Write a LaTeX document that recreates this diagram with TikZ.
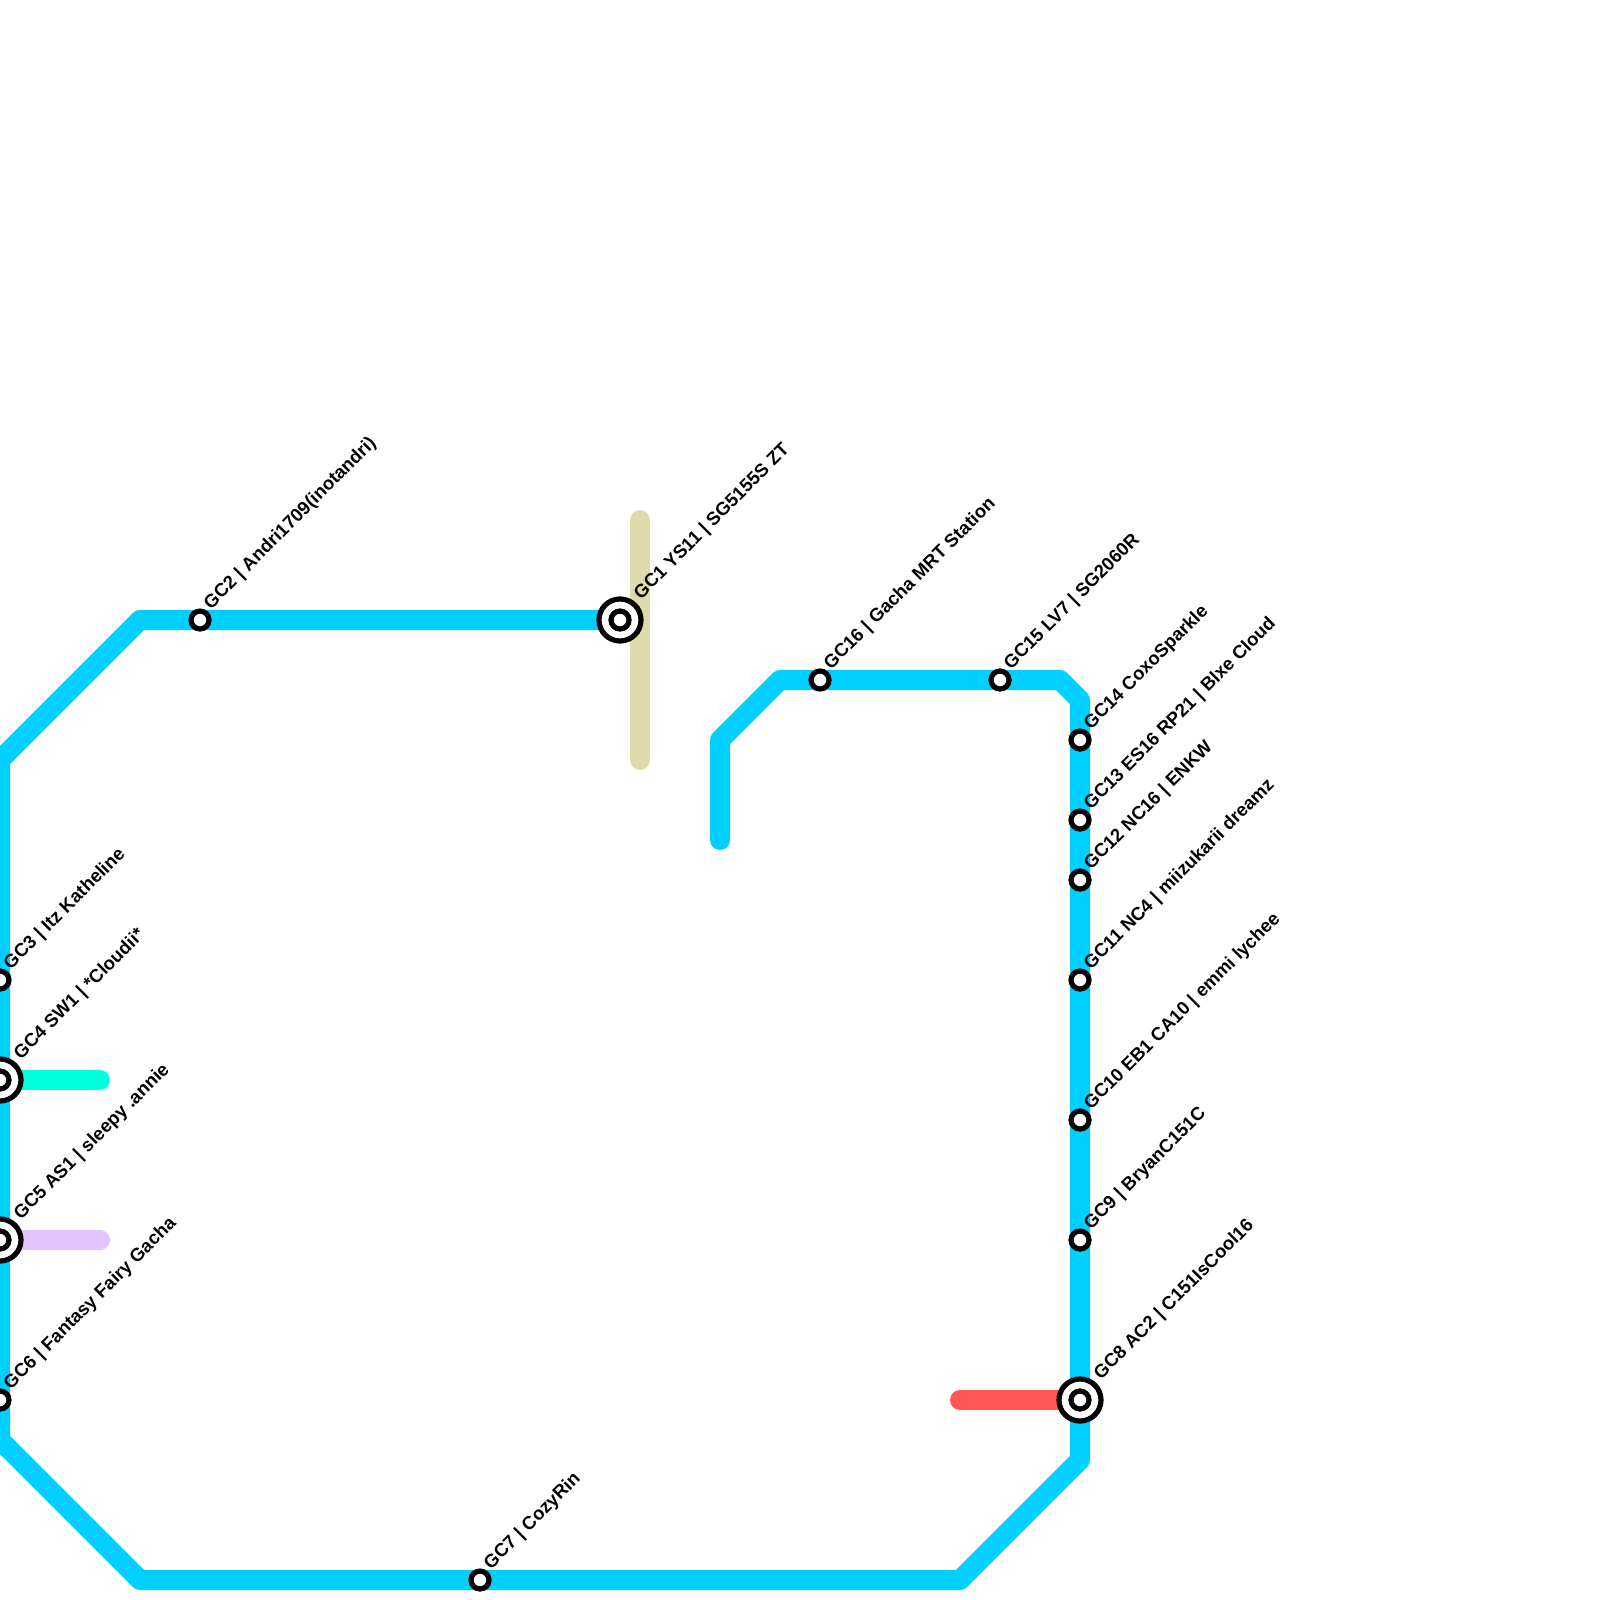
\documentclass[tikz,border=0pt]{standalone}
\usepackage{fontspec}
\setmainfont{Liberation Sans}[BoldFont={Liberation Sans Bold}]
\tikzset{
  x=1pt,y=-1pt,
  route/.style={line width=20pt,line cap=round,line join=round},
  stationmark/.style={circle,draw=black,fill=white,line width=5.2pt,minimum size=18pt,inner sep=0pt,outer sep=0pt},
  hubmark/.style={circle,draw=black,fill=white,line width=5.2pt,minimum size=42pt,inner sep=0pt,outer sep=0pt},
  stationlabel/.style={rotate=45,anchor=base west,inner sep=0pt,outer sep=0pt,font=\fontsize{18.5}{18.5}\selectfont\bfseries,text=black},
}
\definecolor{bluel}{HTML}{00CFFF}
\definecolor{khakil}{HTML}{DDDBA9}
\definecolor{aqual}{HTML}{00FFDD}
\definecolor{purplel}{HTML}{E3C4FF}
\definecolor{redl}{HTML}{FF5555}
\begin{document}
\begin{tikzpicture}
\useasboundingbox (0,0) rectangle (1600,1600);
\clip (0,0) rectangle (1600,1600);
% station positions
\coordinate (p1) at (620,620);
\coordinate (p2) at (200,620);
\coordinate (p3) at (0,980);
\coordinate (p4) at (0,1080);
\coordinate (p5) at (0,1240);
\coordinate (p6) at (0,1400);
\coordinate (p7) at (480,1580);
\coordinate (p8) at (1080,1400);
\coordinate (p9) at (1080,1240);
\coordinate (p10) at (1080,1120);
\coordinate (p11) at (1080,980);
\coordinate (p12) at (1080,880);
\coordinate (p13) at (1080,820);
\coordinate (p14) at (1080,740);
\coordinate (p15) at (1000,680);
\coordinate (p16) at (820,680);
% free ends
\coordinate (blueend) at (720,840);
\coordinate (khakitop) at (640,520);
\coordinate (khakibot) at (640,760);
\coordinate (aquaend) at (100,1080);
\coordinate (purpleend) at (100,1240);
\coordinate (redend) at (960,1400);
% lines
\draw[route,khakil] (khakitop) -- (khakibot);
\draw[route,aqual] (p4) -- (aquaend);
\draw[route,purplel] (p5) -- (purpleend);
\draw[route,redl] (p8) -- (redend);
\draw[route,bluel] (blueend) -- (720,740) -- (780,680) -- (p16) -- (p15) -- (1060,680) -- (1080,700) -- (p14) -- (p13) -- (p12) -- (p11) -- (p10) -- (p9) -- (p8) -- (1080,1460) -- (960,1580) -- (p7) -- (140,1580) -- (0,1440) -- (p6) -- (p5) -- (p4) -- (p3) -- (0,760) -- (140,620) -- (p2) -- (p1);
% hubs
\foreach \n in {1,4,5,8}{
  \node[hubmark] (hub\n) at (p\n) {};
  \node[stationmark] (mark\n) at (p\n) {};
}
% plain stations
\foreach \n in {2,3,6,7,9,10,11,12,13,14,15,16}{
  \node[stationmark] (mark\n) at (p\n) {};
}
% labels
\node[stationlabel] (l1) at ([shift={(21,-20)}]p1) {GC1 YS11 | SG5155S ZT};
\node[stationlabel] (l2) at ([shift={(11,-10)}]p2) {GC2 | Andri1709(inotandri)};
\node[stationlabel] (l3) at ([shift={(11,-10)}]p3) {GC3 | Itz Katheline};
\node[stationlabel] (l4) at ([shift={(21,-20)}]p4) {GC4 SW1 | *Cloudii*};
\node[stationlabel] (l5) at ([shift={(21,-20)}]p5) {GC5 AS1 | sleepy .annie};
\node[stationlabel] (l6) at ([shift={(11,-10)}]p6) {GC6 | Fantasy Fairy Gacha};
\node[stationlabel] (l7) at ([shift={(11,-10)}]p7) {GC7 | CozyRin};
\node[stationlabel] (l8) at ([shift={(21,-20)}]p8) {GC8 AC2 | C151IsCool16};
\node[stationlabel] (l9) at ([shift={(11,-10)}]p9) {GC9 | BryanC151C};
\node[stationlabel] (l10) at ([shift={(11,-10)}]p10) {GC10 EB1 CA10 | emmi lychee};
\node[stationlabel] (l11) at ([shift={(11,-10)}]p11) {GC11 NC4 | miizukarii dreamz};
\node[stationlabel] (l12) at ([shift={(11,-10)}]p12) {GC12 NC16 | ENKW};
\node[stationlabel] (l13) at ([shift={(11,-10)}]p13) {GC13 ES16 RP21 | Blxe Cloud};
\node[stationlabel] (l14) at ([shift={(11,-10)}]p14) {GC14 CoxoSparkle};
\node[stationlabel] (l15) at ([shift={(11,-10)}]p15) {GC15 LV7 | SG2060R};
\node[stationlabel] (l16) at ([shift={(11,-10)}]p16) {GC16 | Gacha MRT Station};
\end{tikzpicture}
\end{document}
